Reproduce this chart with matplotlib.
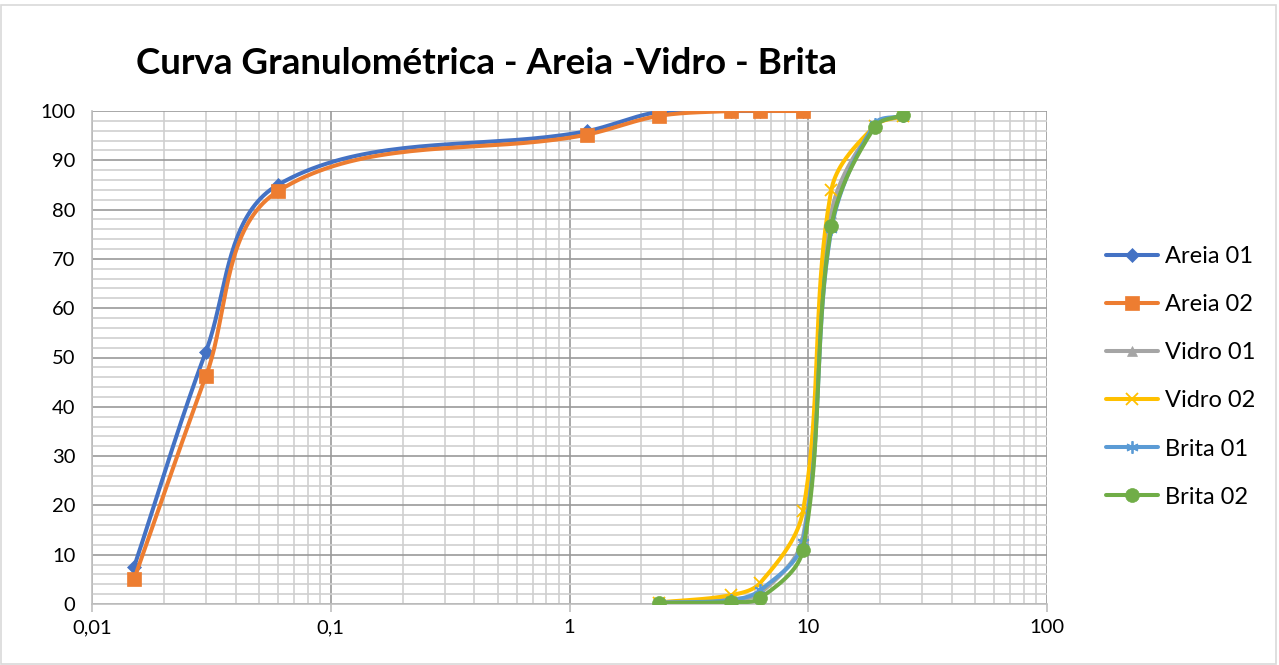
import numpy as np
import matplotlib
matplotlib.use("Agg")
import matplotlib.pyplot as plt
from matplotlib.ticker import FixedLocator, FuncFormatter, MultipleLocator
from matplotlib.patches import Rectangle

# --- DATA (abertura da peneira em mm, % passante) ---
areia_x = [0.015, 0.03, 0.06, 1.18, 2.36, 4.75, 6.3, 9.5]
areia01 = [7.5, 51.2, 85.0, 95.9, 99.8, 100.0, 100.0, 100.0]
areia02 = [5.0, 46.2, 83.7, 95.2, 99.0, 100.0, 100.0, 100.0]

brita_x = [2.36, 4.75, 6.3, 9.5, 12.5, 19, 25]
vidro01 = [0.3, 1.0, 2.2, 13.5, 79.3, 97.0, 99.0]
vidro02 = [0.3, 1.8, 4.3, 18.8, 84.0, 97.0, 99.0]
brita01 = [0.3, 0.8, 2.8, 12.6, 76.0, 97.4, 99.0]
brita02 = [0.2, 0.4, 1.2, 11.0, 76.6, 96.8, 99.2]

labels = ["Areia 01", "Areia 02", "Vidro 01", "Vidro 02", "Brita 01", "Brita 02"]
colors = ["#4472C4", "#ED7D31", "#A5A5A5", "#FFC000", "#5B9BD5", "#70AD47"]
markers = ["D", "s", "^", "x", (6, 2, 0), "o"]
msizes = [7, 10, 7, 8, 9, 10]

FONT = "Lato"
# approx. pixels per log-decade and per % (so smoothing behaves like on screen)
SX, SY = 238.75, 4.93


def smooth(xs, ys, n=40, c=1 / 3):
    # bezier smoothing, tangent direction from neighbours, handle length ~ segment/3
    P = np.column_stack([np.log10(np.asarray(xs, float)) * SX, np.asarray(ys, float) * SY])
    m = len(P)
    out = []
    t = np.linspace(0, 1, n, endpoint=False)[:, None]

    def unit(v):
        return v / np.hypot(*v)

    for i in range(m - 1):
        p0 = P[max(i - 1, 0)]
        p1, p2 = P[i], P[i + 1]
        p3 = P[min(i + 2, m - 1)]
        l12 = np.hypot(*(p2 - p1))
        b1 = p1 + unit(p2 - p0) * l12 * c
        b2 = p2 - unit(p3 - p1) * l12 * c
        seg = ((1 - t) ** 3) * p1 + 3 * ((1 - t) ** 2) * t * b1 + 3 * (1 - t) * t ** 2 * b2 + t ** 3 * p2
        out.append(seg)
    out.append(P[-1][None, :])
    cc = np.vstack(out)
    marks = list(range(0, len(cc), n))
    return 10 ** (cc[:, 0] / SX), cc[:, 1] / SY, marks


fig = plt.figure(figsize=(12.79, 6.65), dpi=100)
ax = fig.add_axes([92 / 1279, 1 - 604 / 665, (1047 - 92) / 1279, (604 - 111) / 665])

series = [(areia_x, areia01), (areia_x, areia02), (brita_x, vidro01),
          (brita_x, vidro02), (brita_x, brita01), (brita_x, brita02)]

for (xs, ys), lab, col, mk, ms in zip(series, labels, colors, markers, msizes):
    sx, sy, marks = smooth(xs, ys)
    ax.plot(sx, sy, color=col, lw=2.9, marker=mk, markersize=ms, markevery=marks,
            markeredgewidth=1.3 if mk in ("x", (6, 2, 0)) else 0.5,
            markeredgecolor=col, markerfacecolor=col, label=lab, zorder=3,
            solid_capstyle="round")

ax.set_xscale("log")
ax.set_xlim(0.01, 100)
ax.set_ylim(0, 100)
ax.yaxis.set_major_locator(MultipleLocator(10))
ax.yaxis.set_minor_locator(MultipleLocator(2))
ax.xaxis.set_major_locator(FixedLocator([0.01, 0.1, 1, 10, 100]))
ax.xaxis.set_major_formatter(FuncFormatter(lambda v, p: {0.01: "0,01", 0.1: "0,1"}.get(round(v, 3), "%g" % v)))

ax.grid(True, which="major", color="#9a9a9a", lw=1.2)
ax.grid(True, which="minor", color="#cfcfcf", lw=1.2)
ax.set_axisbelow(True)

for s in ["top", "right"]:
    ax.spines[s].set_visible(False)
ax.spines["left"].set_color("#bfbfbf")
ax.spines["bottom"].set_color("#bfbfbf")
ax.spines["left"].set_linewidth(1.2)
ax.spines["bottom"].set_linewidth(1.2)

ax.tick_params(axis="y", which="both", length=0, labelsize=14.5, pad=12)
ax.tick_params(axis="x", which="major", length=6, color="#bfbfbf", width=1.2, labelsize=14.5, pad=5)
ax.tick_params(axis="x", which="minor", length=0)
for lab in ax.get_xticklabels() + ax.get_yticklabels():
    lab.set_fontfamily(FONT)
    lab.set_color("#000000")

fig.text(486 / 1279, 1 - 64 / 665, "Curva Granulométrica - Areia -Vidro - Brita",
         ha="center", va="center", fontsize=26.5, fontweight="bold", family=FONT)

leg = ax.legend(loc="upper left", bbox_to_anchor=(1106 / 1279, 1 - 246 / 665),
                bbox_transform=fig.transFigure, frameon=False, prop={"family": FONT, "size": 17},
                handlelength=2.2, labelspacing=1.15, handletextpad=0.3, borderaxespad=0,
                borderpad=0)

fig.patches.append(Rectangle((0.001, 0.002), 0.997, 0.99, transform=fig.transFigure,
                             fill=False, edgecolor="#d9d9d9", lw=1.2))

fig.savefig("out.png", dpi=100)
